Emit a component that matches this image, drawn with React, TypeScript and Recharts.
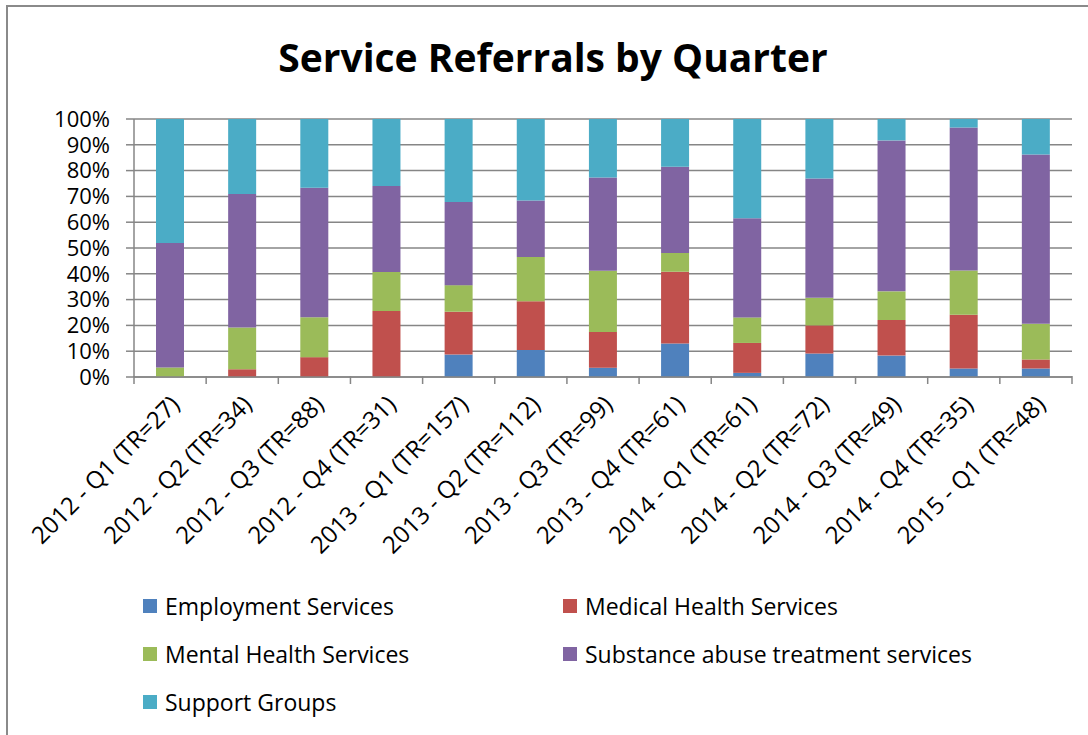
import React from "react";
import { BarChart, Bar, XAxis, YAxis, CartesianGrid } from "recharts";

const categories = [
  "2012 - Q1 (TR=27)",
  "2012 - Q2 (TR=34)",
  "2012 - Q3 (TR=88)",
  "2012 - Q4 (TR=31)",
  "2013 - Q1 (TR=157)",
  "2013 - Q2 (TR=112)",
  "2013 - Q3 (TR=99)",
  "2013 - Q4 (TR=61)",
  "2014 - Q1 (TR=61)",
  "2014 - Q2 (TR=72)",
  "2014 - Q3 (TR=49)",
  "2014 - Q4 (TR=35)",
  "2015 - Q1 (TR=48)",
];

const employment = [0, 0, 0, 0, 8.7, 10.5, 3.6, 13.0, 1.6, 9.1, 8.3, 3.3, 3.3];
const medical = [0, 3.0, 7.7, 25.6, 16.6, 18.9, 13.8, 27.8, 11.6, 10.9, 13.8, 20.8, 3.5];
const mental = [3.7, 16.2, 15.5, 15.1, 10.3, 17.1, 23.8, 7.3, 9.9, 10.7, 11.1, 17.2, 13.8];
const substance = [48.2, 51.7, 50.2, 33.3, 32.2, 21.9, 36.1, 33.4, 38.4, 46.2, 58.5, 55.4, 65.6];
const support = [48.1, 29.1, 26.6, 26.0, 32.2, 31.6, 22.7, 18.5, 38.5, 23.1, 8.3, 3.3, 13.8];

const yTicks = [0, 0.1, 0.2, 0.3, 0.4, 0.5, 0.6, 0.7, 0.8, 0.9, 1];

const seriesNames = [
  "Employment Services",
  "Medical Health Services",
  "Mental Health Services",
  "Substance abuse treatment services",
  "Support Groups",
];
const seriesKeys = ["employment", "medical", "mental", "substance", "support"];
const seriesColors = ["#4F81BD", "#C0504D", "#9BBB59", "#8064A2", "#4BACC6"];

const data = categories.map((c, i) => ({
  name: c,
  employment: employment[i],
  medical: medical[i],
  mental: mental[i],
  substance: substance[i],
  support: support[i],
}));

const FONT = "'Open Sans', sans-serif";
const AXIS = "#868686";

const XTick = (props: any) => {
  const { x, y, payload, index, visibleTicksCount } = props;
  const half = payload && payload.offset ? payload.offset : 36.1;
  const last = index === (visibleTicksCount ? visibleTicksCount - 1 : categories.length - 1);
  const ax = y;
  const tx = x + 11;
  const ty = ax + 29;
  return (
    <g>
      <line x1={x - half} y1={ax - 1} x2={x - half} y2={ax + 7} stroke={AXIS} strokeWidth={1.5} />
      {last && <line x1={x + half} y1={ax - 1} x2={x + half} y2={ax + 7} stroke={AXIS} strokeWidth={1.5} />}
      <text
        x={tx}
        y={ty}
        transform={`rotate(-45, ${tx}, ${ty})`}
        textAnchor="end"
        fontFamily={FONT}
        fontSize={24}
        fill="#000"
      >
        {payload.value}
      </text>
    </g>
  );
};

const legendPos = [
  [143, 606],
  [563, 606],
  [143, 654],
  [563, 654],
  [143, 702],
];

export default function App() {
  return (
    <div style={{ position: "absolute", left: 0, top: 0, width: 1088, height: 735, background: "#fff", overflow: "hidden" }}>
      <div
        style={{
          position: "absolute",
          left: 6,
          top: 5,
          width: 1200,
          height: 800,
          borderLeft: "2px solid #8a8a8a",
          borderTop: "2px solid #8a8a8a",
        }}
      />
      <div
        style={{
          position: "absolute",
          left: 0,
          top: 29,
          width: 1106,
          textAlign: "center",
          fontFamily: FONT,
          fontWeight: 700,
          fontSize: 39,
          lineHeight: "56px",
          color: "#000",
        }}
      >
        Service Referrals by Quarter
      </div>
      <div style={{ position: "absolute", left: 0, top: 0 }}>
        <BarChart
          width={1088}
          height={735}
          data={data}
          stackOffset="expand"
          margin={{ top: 119, right: 16, bottom: 58, left: 74 }}
          barCategoryGap={0}
        >
          <CartesianGrid vertical={false} stroke={AXIS} strokeWidth={1.5} />
          <XAxis
            dataKey="name"
            interval={0}
            height={300}
            axisLine={{ stroke: AXIS, strokeWidth: 1.5 }}
            tickLine={false}
            tick={<XTick />}
            tickSize={0}
            tickMargin={0}
          />
          <YAxis
            width={60}
            domain={[0, 1]}
            ticks={yTicks}
            tickFormatter={(v: number) => `${Math.round(v * 100)}%`}
            axisLine={{ stroke: AXIS, strokeWidth: 1.5 }}
            tickLine={{ stroke: AXIS, strokeWidth: 1.5 }}
            tickSize={8}
            tickMargin={16}
            tick={{ fontFamily: FONT, fontSize: 22, fill: "#000" }}
            interval={0}
          />
          {seriesKeys.map((k, i) => (
            <Bar
              key={k}
              dataKey={k}
              name={seriesNames[i]}
              stackId="a"
              fill={seriesColors[i]}
              barSize={28}
              isAnimationActive={false}
            />
          ))}
        </BarChart>
      </div>
      {seriesNames.map((n, i) => (
        <div
          key={n}
          style={{
            position: "absolute",
            left: legendPos[i][0],
            top: legendPos[i][1] - 16,
            height: 32,
            display: "flex",
            alignItems: "center",
            whiteSpace: "nowrap",
            fontFamily: FONT,
            fontSize: 23,
            color: "#000",
          }}
        >
          <span style={{ display: "inline-block", width: 14, height: 14, background: seriesColors[i], marginRight: 8 }} />
          {n}
        </div>
      ))}
    </div>
  );
}
